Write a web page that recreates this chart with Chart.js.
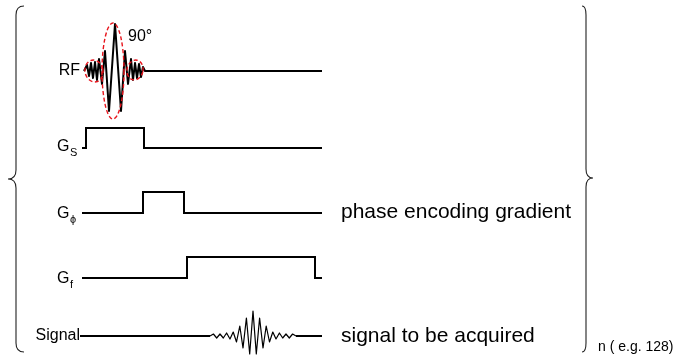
<!DOCTYPE html>
<html>
<head>
<meta charset="utf-8">
<script src="https://cdn.jsdelivr.net/npm/chart.js@4.4.0/dist/chart.umd.min.js"></script>
<style>
  html, body { margin: 0; padding: 0; background: #fff; }
  #seq { display: block; }
</style>
</head>
<body>
<canvas id="seq" width="681" height="358"></canvas>
<script>
// time axis (arbitrary units), amplitude axis: each row sits on its own baseline
const rowNames = ['RF', 'Gs', 'Gphi', 'Gf', 'Signal']
const rowBase = [287, 210, 145, 80, 22]

// RF: sinc pulse vertices, then flat
const rfTime = [2, 5, 7, 9, 11, 13, 15, 17, 20, 23, 27, 33, 39, 43, 46, 49, 51, 53, 55, 57, 59, 61, 63, 240]
const rfAmp = [0, 6, -5, 8, -7, 9, -9, 12, -13, 20, -40, 47, -40, 20, -13, 12, -9, 8, -7, 7, -6, 4, 0, 0]

// slice select gradient
const gsTime = [0, 4, 4, 62, 62, 240]
const gsAmp = [0, 0, 20, 20, 0, 0]

// phase encoding gradient
const gphiTime = [0, 61, 61, 102, 102, 240]
const gphiAmp = [0, 0, 21, 21, 0, 0]

// frequency encoding gradient
const gfTime = [0, 105, 105, 233, 233, 240]
const gfAmp = [0, 0, 21, 21, 0, 0]

// signal: baseline pieces and the echo
const sigLineTime = [-2, 128, null, 214, 240]
const echoTime = [128, 131.4, 134.7, 138, 141.3, 144.6, 148, 151.2, 154.5, 157.8, 161, 164.4, 167.7, 171, 174.3, 177.6, 181, 184.2, 187.5, 190.8, 194, 197.4, 200.7, 204, 207.3, 210.6, 214]
const echoAmp = [0, 2, -2, 2, -2, 3, -3, 4, -6, 10, -12, 18, -18, 25, -18, 18, -12, 10, -6, 4, -3, 3, -2, 2, -2, 2, 0]

const toPoints = (ts, as, base) => ts.map((t, i) => t === null ? { x: null, y: null } : { x: t, y: base + (as ? as[i] : 0) })

const waveStyle = {
    showLine: true,
    pointRadius: 0,
    borderColor: '#000',
    borderWidth: 2,
    borderJoinStyle: 'miter',
    tension: 0,
    spanGaps: false,
    fill: false
}

const datasets = [
    { ...waveStyle, label: rowNames[0], borderJoinStyle: 'round', data: toPoints(rfTime, rfAmp, rowBase[0]) },
    { ...waveStyle, label: rowNames[1], data: toPoints(gsTime, gsAmp, rowBase[1]) },
    { ...waveStyle, label: rowNames[2], data: toPoints(gphiTime, gphiAmp, rowBase[2]) },
    { ...waveStyle, label: rowNames[3], data: toPoints(gfTime, gfAmp, rowBase[3]) },
    { ...waveStyle, label: rowNames[4], data: toPoints(sigLineTime, null, rowBase[4]) },
    { ...waveStyle, label: 'echo', borderWidth: 1.2, borderJoinStyle: 'round', data: toPoints(echoTime, echoAmp, rowBase[4]) }
]

// red dashed outlines around the RF lobes: centre (t, v), half width, half height
const lobeMarks = [
    { t: 31, v: 287, w: 11, h: 48, rot: 0 },
    { t: 12, v: 287, w: 9, h: 11, rot: -0.2 },
    { t: 53, v: 288, w: 8, h: 10, rot: 0.2 }
]

const labels = [
    { text: 'RF', t: -2, v: 287, align: 'right', size: 16 },
    { text: '90°', t: 46, v: 321, align: 'left', size: 16 },
    { text: 'G', sub: 'S', t: -25, v: 211, align: 'left', size: 16 },
    { text: 'G', sub: 'ϕ', t: -25, v: 144, align: 'left', size: 16 },
    { text: 'G', sub: 'f', t: -25, v: 79, align: 'left', size: 16 },
    { text: 'Signal', t: -2, v: 22, align: 'right', size: 16 },
    { text: 'phase encoding gradient', t: 259, v: 146, align: 'left', size: 21 },
    { text: 'signal to be acquired', t: 259, v: 22, align: 'left', size: 21 },
    { text: 'n ( e.g. 128)', t: 516, v: 11, align: 'left', size: 14 }
]

// braces: x position, top/bottom/middle levels, which way the point faces
const braces = [
    { t: -66, top: 352, bottom: 6, mid: 179, dir: -1, hook: 8, tip: 8 },
    { t: 504, top: 352, bottom: 6, mid: 180, dir: 1, hook: 4, tip: 7 }
]

const decorations = {
    id: 'decorations',
    afterDatasetsDraw(chart) {
        const ctx = chart.ctx
        const sx = chart.scales.x
        const sy = chart.scales.y
        const px = t => sx.getPixelForValue(t)
        const py = v => sy.getPixelForValue(v)

        ctx.save()

        // lobe outlines
        ctx.strokeStyle = '#e8141c'
        ctx.lineWidth = 1.4
        ctx.setLineDash([4, 2.5])
        lobeMarks.forEach(m => {
            ctx.beginPath()
            ctx.ellipse(px(m.t), py(m.v), Math.abs(px(m.t + m.w) - px(m.t)), Math.abs(py(m.v + m.h) - py(m.v)), m.rot, 0, Math.PI * 2)
            ctx.stroke()
        })
        ctx.setLineDash([])

        // braces
        ctx.strokeStyle = '#222'
        ctx.lineWidth = 1.1
        braces.forEach(b => {
            const x0 = px(b.t)
            const top = py(b.top)
            const bot = py(b.bottom)
            const mid = py(b.mid)
            const r = 9
            ctx.beginPath()
            ctx.moveTo(x0 - b.dir * b.hook, top)
            ctx.quadraticCurveTo(x0, top, x0, top + r)
            ctx.lineTo(x0, mid - r)
            ctx.quadraticCurveTo(x0, mid, x0 + b.dir * b.tip, mid)
            ctx.quadraticCurveTo(x0, mid, x0, mid + r)
            ctx.lineTo(x0, bot - r)
            ctx.quadraticCurveTo(x0, bot, x0 - b.dir * b.hook, bot)
            ctx.stroke()
        })

        // text
        ctx.fillStyle = '#000'
        ctx.textBaseline = 'middle'
        labels.forEach(l => {
            ctx.font = l.size + 'px "Liberation Sans", Arial, sans-serif'
            ctx.textAlign = l.align
            const x = px(l.t)
            const y = py(l.v)
            ctx.fillText(l.text, x, y)
            if (l.sub) {
                const w = ctx.measureText(l.text).width
                ctx.font = '11px "Liberation Sans", Arial, sans-serif'
                ctx.textAlign = 'left'
                ctx.fillText(l.sub, x + w + 0.5, y + 6)
            }
        })

        ctx.restore()
    }
}

new Chart(document.getElementById('seq'), {
    type: 'scatter',
    data: { datasets: datasets },
    options: {
        responsive: false,
        animation: false,
        events: [],
        layout: { padding: 0 },
        plugins: {
            legend: { display: false },
            title: { display: false },
            tooltip: { enabled: false }
        },
        scales: {
            x: { type: 'linear', min: -82, max: 599, display: false },
            y: { type: 'linear', min: 0, max: 358, display: false }
        }
    },
    plugins: [decorations]
})
</script>
</body>
</html>
